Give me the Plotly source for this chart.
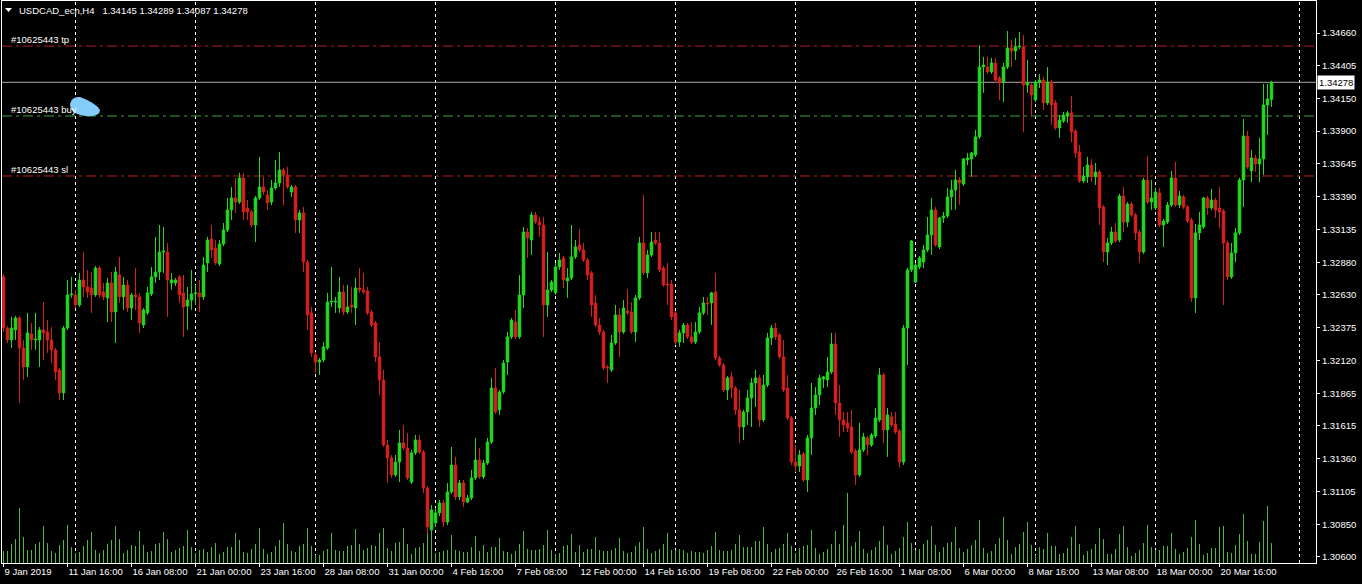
import plotly.graph_objects as go

# ---------------- data (USDCAD_ecn, H4, from 9 Jan 2019 00:00) ----------------
open_ = [1.32770,1.32374,1.32281,1.32359,1.32452,1.32219,1.32072,1.32328,1.32281,1.32281,
1.32359,1.32343,1.32281,1.32204,1.32049,1.31871,1.32374,1.32630,1.32630,1.32552,
1.32746,1.32692,1.32684,1.32630,1.32839,1.32653,1.32607,1.32723,1.32498,1.32785,
1.32615,1.32707,1.32529,1.32630,1.32615,1.32397,1.32491,1.32638,1.32770,1.32808,
1.32963,1.32963,1.32723,1.32723,1.32770,1.32646,1.32544,1.32591,1.32638,1.32646,
1.32615,1.32878,1.33064,1.32994,1.32870,1.33025,1.33134,1.33289,1.33382,1.33350,
1.33537,1.33304,1.33273,1.33172,1.33382,1.33467,1.33405,1.33350,1.33459,1.33498,
1.33599,1.33560,1.33428,1.33467,1.33211,1.33266,1.32885,1.32491,1.32165,1.32110,
1.32126,1.32219,1.32575,1.32575,1.32529,1.32653,1.32498,1.32552,1.32529,1.32684,
1.32669,1.32661,1.32498,1.32413,1.32150,1.31971,1.31467,1.31367,1.31235,1.31335,
1.31483,1.31444,1.31180,1.31406,1.31506,1.31413,1.31134,1.30809,1.30863,1.30941,
1.31018,1.30870,1.31103,1.31312,1.31065,1.31173,1.31025,1.31057,1.31212,1.31351,
1.31220,1.31328,1.31490,1.31909,1.31739,1.31878,1.32110,1.32305,1.32420,1.32305,
1.32630,1.33118,1.33056,1.33250,1.33195,1.33172,1.32552,1.32669,1.32646,1.32847,
1.32917,1.32738,1.32762,1.32925,1.33017,1.32979,1.32901,1.32801,1.32568,1.32397,
1.32343,1.32072,1.32049,1.32258,1.32475,1.32343,1.32506,1.32498,1.32343,1.32607,
1.33033,1.32801,1.32940,1.33056,1.33033,1.32839,1.32715,1.32715,1.32491,1.32265,
1.32336,1.32397,1.32305,1.32265,1.32343,1.32491,1.32568,1.32568,1.32653,1.32142,
1.32087,1.31894,1.31995,1.31909,1.31739,1.31607,1.31723,1.31832,1.31948,1.31987,
1.31661,1.31932,1.32297,1.32374,1.32320,1.32150,1.31909,1.31677,1.31335,1.31304,
1.31398,1.31196,1.31522,1.31754,1.31855,1.31979,1.31971,1.32033,1.32250,1.31793,
1.31661,1.31638,1.31607,1.31421,1.31235,1.31429,1.31522,1.31467,1.31537,1.31661,
1.32010,1.31584,1.31685,1.31630,1.31576,1.31335,1.32374,1.32824,1.32730,1.32847,
1.32885,1.32979,1.33095,1.33289,1.33002,1.33227,1.33242,1.33390,1.33444,1.33521,
1.33490,1.33676,1.33684,1.33715,1.33855,1.34397,1.34397,1.34358,1.34428,1.34312,
1.34280,1.34397,1.34544,1.34521,1.34552,1.34552,1.34257,1.34257,1.34141,1.34280,
1.34296,1.34118,1.34280,1.34118,1.33924,1.33978,1.34017,1.34041,1.33901,1.33738,
1.33513,1.33545,1.33637,1.33545,1.33583,1.33312,1.32963,1.33033,1.33118,1.33056,
1.33397,1.33195,1.33335,1.33250,1.33118,1.32963,1.33521,1.33350,1.33304,1.33421,
1.33172,1.33195,1.33327,1.33537,1.33327,1.33390,1.33312,1.33211,1.32607,1.33111,
1.33157,1.33382,1.33304,1.33366,1.33304,1.33281,1.33033,1.32770,1.32956,1.33111,
1.33521,1.33862,1.33591,1.33692,1.33645,1.33684,1.34102,1.34145]

high_ = [1.32793,1.32389,1.32460,1.32467,1.32467,1.32281,1.32491,1.32413,1.32491,1.32382,
1.32575,1.32436,1.32382,1.32219,1.32064,1.32389,1.32746,1.32770,1.32669,1.32801,
1.32963,1.32824,1.32808,1.32854,1.32854,1.32723,1.32762,1.32808,1.32847,1.32925,
1.32770,1.32746,1.32646,1.32839,1.32646,1.32529,1.32692,1.32847,1.33080,1.33172,
1.33157,1.33033,1.32801,1.32762,1.32785,1.32785,1.32692,1.32824,1.32707,1.32746,
1.32925,1.33080,1.33172,1.33056,1.33056,1.33188,1.33382,1.33467,1.33537,1.33576,
1.33576,1.33366,1.33289,1.33397,1.33700,1.33545,1.33444,1.33521,1.33676,1.33738,
1.33614,1.33622,1.33482,1.33482,1.33289,1.33312,1.32901,1.32537,1.32188,1.32142,
1.32265,1.32646,1.32847,1.32615,1.32770,1.32707,1.32707,1.32692,1.32762,1.32839,
1.32801,1.32692,1.32514,1.32428,1.32265,1.32049,1.31506,1.31390,1.31390,1.31584,
1.31622,1.31561,1.31429,1.31545,1.31545,1.31429,1.31149,1.31002,1.30979,1.31041,
1.31041,1.31173,1.31452,1.31375,1.31196,1.31196,1.31080,1.31274,1.31522,1.31444,
1.31351,1.31522,1.31987,1.32064,1.31894,1.32126,1.32343,1.32452,1.32514,1.32785,
1.33157,1.33149,1.33273,1.33273,1.33235,1.33235,1.32963,1.32746,1.32878,1.32956,
1.32932,1.32839,1.33172,1.33056,1.33141,1.33033,1.32917,1.32816,1.32630,1.32452,
1.32359,1.32087,1.32320,1.32552,1.32529,1.32591,1.32676,1.32575,1.32630,1.33080,
1.33405,1.32979,1.33118,1.33118,1.33118,1.32854,1.32878,1.32746,1.32506,1.32359,
1.32413,1.32413,1.32420,1.32420,1.32537,1.32615,1.32615,1.32653,1.32801,1.32157,
1.32103,1.32002,1.32033,1.31924,1.31894,1.31739,1.31894,1.31987,1.32049,1.32010,
1.32010,1.32336,1.32397,1.32413,1.32336,1.32281,1.32010,1.31692,1.31467,1.31429,
1.31413,1.31545,1.31948,1.31917,1.32010,1.32002,1.32150,1.32336,1.32336,1.31932,
1.31723,1.31723,1.31739,1.31436,1.31638,1.31561,1.31537,1.31561,1.31754,1.32064,
1.32026,1.31754,1.31723,1.31723,1.31591,1.32397,1.32839,1.33056,1.32878,1.32932,
1.33017,1.33235,1.33382,1.33312,1.33235,1.33273,1.33459,1.33521,1.33599,1.33545,
1.33692,1.33731,1.33738,1.33909,1.34567,1.34475,1.34475,1.34467,1.34467,1.34327,
1.34428,1.34676,1.34606,1.34622,1.34668,1.34645,1.34451,1.34273,1.34296,1.34343,
1.34320,1.34397,1.34296,1.34141,1.34025,1.34048,1.34056,1.34172,1.33916,1.33792,
1.33622,1.33700,1.33684,1.33653,1.33599,1.33327,1.33072,1.33157,1.33188,1.33413,
1.33467,1.33350,1.33350,1.33266,1.33134,1.33537,1.33707,1.33521,1.33459,1.33459,
1.33219,1.33350,1.33591,1.33660,1.33436,1.33405,1.33327,1.33227,1.33180,1.33273,
1.33390,1.33397,1.33451,1.33382,1.33467,1.33296,1.33048,1.33033,1.33149,1.33537,
1.33994,1.33901,1.33754,1.33715,1.33847,1.34265,1.34265,1.34289]

low_ = [1.32343,1.32258,1.32219,1.32281,1.31793,1.31971,1.31995,1.32204,1.32204,1.32072,
1.32126,1.32181,1.32103,1.31971,1.31816,1.31816,1.32359,1.32607,1.32529,1.32537,
1.32615,1.32607,1.32491,1.32615,1.32607,1.32591,1.32420,1.32420,1.32258,1.32568,
1.32514,1.32498,1.32436,1.32514,1.32336,1.32374,1.32475,1.32622,1.32723,1.32746,
1.32801,1.32460,1.32669,1.32699,1.32568,1.32305,1.32359,1.32514,1.32552,1.32498,
1.32591,1.32808,1.32917,1.32862,1.32854,1.33009,1.33118,1.33211,1.33266,1.33335,
1.33211,1.33211,1.33157,1.33040,1.33366,1.33405,1.33289,1.33327,1.33444,1.33467,
1.33327,1.33451,1.33390,1.33111,1.33111,1.32808,1.32359,1.32150,1.32026,1.32010,
1.32110,1.32204,1.32537,1.32491,1.32491,1.32475,1.32483,1.32491,1.32397,1.32646,
1.32638,1.32475,1.32382,1.32110,1.31855,1.31452,1.31173,1.31212,1.31220,1.31180,
1.31429,1.31196,1.31165,1.31390,1.31398,1.31096,1.30786,1.30755,1.30832,1.30917,
1.30832,1.30847,1.31088,1.31041,1.31041,1.30987,1.31018,1.31041,1.31196,1.31204,
1.31204,1.31312,1.31475,1.31708,1.31700,1.31863,1.32010,1.32289,1.32289,1.32289,
1.32529,1.32917,1.32940,1.33180,1.33080,1.32305,1.32460,1.32653,1.32630,1.32824,
1.32684,1.32607,1.32746,1.32909,1.32963,1.32885,1.32746,1.32460,1.32382,1.32320,
1.32049,1.31948,1.32033,1.32242,1.32150,1.32328,1.32475,1.32328,1.32265,1.32591,
1.32785,1.32762,1.32925,1.33017,1.32808,1.32692,1.32552,1.32436,1.32242,1.32227,
1.32258,1.32289,1.32250,1.32250,1.32328,1.32475,1.32475,1.32397,1.32126,1.32072,
1.31878,1.31816,1.31832,1.31700,1.31483,1.31506,1.31622,1.31607,1.31762,1.31607,
1.31645,1.31917,1.32242,1.32281,1.32134,1.31878,1.31661,1.31312,1.31258,1.31258,
1.31180,1.31103,1.31390,1.31700,1.31777,1.31909,1.31917,1.32018,1.31700,1.31530,
1.31568,1.31568,1.31398,1.31157,1.31220,1.31413,1.31390,1.31452,1.31522,1.31645,
1.31483,1.31375,1.31607,1.31553,1.31289,1.31312,1.32087,1.32808,1.32723,1.32831,
1.32839,1.32963,1.32940,1.33002,1.32986,1.33188,1.33227,1.33289,1.33289,1.33327,
1.33474,1.33637,1.33545,1.33700,1.33839,1.34196,1.34343,1.34343,1.34273,1.34141,
1.34125,1.34381,1.34397,1.34451,1.34536,1.33893,1.34196,1.34010,1.34125,1.34234,
1.34064,1.34102,1.33947,1.33909,1.33847,1.33963,1.33963,1.33815,1.33692,1.33498,
1.33498,1.33498,1.33505,1.33482,1.33172,1.32885,1.32862,1.33017,1.33033,1.33040,
1.33118,1.33157,1.33235,1.33056,1.32878,1.32948,1.33335,1.33289,1.33289,1.33157,
1.33002,1.33180,1.33312,1.33312,1.33304,1.33296,1.33188,1.32575,1.32491,1.33056,
1.33141,1.33250,1.33289,1.33227,1.33149,1.32552,1.32746,1.32754,1.32885,1.33095,
1.33312,1.33606,1.33505,1.33583,1.33505,1.33560,1.33870,1.34087]

close_ = [1.32374,1.32281,1.32374,1.32452,1.32219,1.32072,1.32336,1.32281,1.32289,1.32359,
1.32336,1.32281,1.32204,1.32033,1.31871,1.32374,1.32630,1.32638,1.32552,1.32746,
1.32692,1.32653,1.32630,1.32839,1.32630,1.32615,1.32723,1.32498,1.32808,1.32615,
1.32707,1.32529,1.32630,1.32615,1.32413,1.32514,1.32646,1.32770,1.32808,1.32963,
1.32971,1.32746,1.32746,1.32746,1.32630,1.32537,1.32591,1.32638,1.32646,1.32615,
1.32862,1.33056,1.32979,1.32878,1.33025,1.33134,1.33289,1.33382,1.33350,1.33537,
1.33273,1.33273,1.33172,1.33382,1.33467,1.33428,1.33343,1.33459,1.33498,1.33599,
1.33560,1.33467,1.33467,1.33211,1.33266,1.32885,1.32475,1.32181,1.32110,1.32126,
1.32227,1.32575,1.32583,1.32583,1.32653,1.32498,1.32537,1.32537,1.32684,1.32669,
1.32653,1.32491,1.32397,1.32150,1.31971,1.31467,1.31367,1.31235,1.31335,1.31483,
1.31444,1.31212,1.31406,1.31506,1.31413,1.31134,1.30832,1.30964,1.30941,1.31018,
1.30870,1.31103,1.31312,1.31065,1.31173,1.31025,1.31057,1.31212,1.31351,1.31220,
1.31328,1.31490,1.31909,1.31723,1.31878,1.32103,1.32305,1.32436,1.32305,1.32630,
1.33118,1.33072,1.33250,1.33195,1.33172,1.32552,1.32669,1.32730,1.32847,1.32901,
1.32746,1.32762,1.32925,1.33002,1.32979,1.32901,1.32785,1.32552,1.32397,1.32343,
1.32064,1.32064,1.32258,1.32475,1.32343,1.32529,1.32491,1.32343,1.32607,1.33033,
1.32801,1.32940,1.33040,1.33033,1.32824,1.32707,1.32707,1.32460,1.32265,1.32336,
1.32397,1.32305,1.32265,1.32343,1.32491,1.32568,1.32560,1.32646,1.32142,1.32087,
1.31894,1.31987,1.31909,1.31739,1.31607,1.31723,1.31832,1.31948,1.31987,1.31661,
1.31932,1.32297,1.32374,1.32305,1.32150,1.31894,1.31677,1.31335,1.31304,1.31390,
1.31196,1.31522,1.31754,1.31855,1.31987,1.31995,1.32033,1.32250,1.31793,1.31661,
1.31622,1.31599,1.31413,1.31235,1.31429,1.31530,1.31467,1.31545,1.31677,1.32010,
1.31584,1.31700,1.31622,1.31568,1.31335,1.32374,1.32824,1.33048,1.32862,1.32917,
1.32979,1.33095,1.33289,1.33017,1.33227,1.33242,1.33390,1.33444,1.33521,1.33498,
1.33684,1.33692,1.33731,1.33855,1.34397,1.34412,1.34358,1.34428,1.34296,1.34273,
1.34397,1.34544,1.34521,1.34552,1.34559,1.34257,1.34273,1.34180,1.34280,1.34296,
1.34118,1.34280,1.34102,1.33924,1.33986,1.34025,1.34041,1.33893,1.33731,1.33513,
1.33552,1.33637,1.33545,1.33583,1.33304,1.32963,1.33033,1.33118,1.33048,1.33397,
1.33195,1.33335,1.33250,1.33111,1.32963,1.33521,1.33350,1.33382,1.33428,1.33172,
1.33203,1.33327,1.33537,1.33327,1.33397,1.33312,1.33203,1.32607,1.33111,1.33172,
1.33382,1.33304,1.33366,1.33289,1.33273,1.33033,1.32770,1.32956,1.33111,1.33521,
1.33862,1.33622,1.33692,1.33645,1.33684,1.34102,1.34149,1.34278]

# tick volume (hundreds of ticks)
volume = [12,12,19,24,55,26,13,13,19,21, 37,20,12,10,18,23,38,16,10,11,
17,23,31,13,10,13,19,23,37,24, 10,13,18,17,32,18,11,12,19,20,
31,24,11,13,15,17,33,16,10,13, 14,11,16,20,9,11,16,16,30,23,
11,10,14,19,35,14,9,11,17,23, 40,19,12,11,17,19,35,17,8,8,
12,14,30,13,12,12,17,18,34,19, 13,15,18,17,30,35,15,12,20,21,
35,19,9,15,16,20,30,40,10,11, 12,13,28,13,12,11,11,16,27,12,
18,11,16,16,25,12,11,9,12,19, 32,14,13,13,14,18,33,13,9,10,
17,18,29,11,18,11,14,14,26,13, 12,12,13,15,25,12,10,11,17,21,
36,14,10,12,14,19,30,13,13,14, 13,10,12,11,11,10,13,17,31,13,
12,12,13,19,28,16,16,16,22,22, 36,19,11,14,15,19,30,17,10,15,
17,18,33,15,9,11,14,19,32,19, 38,70,17,21,32,14,10,13,16,22,
37,18,9,12,15,26,41,20,13,14, 19,23,37,18,11,16,20,21,36,15,
11,14,18,23,43,15,10,12,19,25, 46,23,9,16,19,31,41,18,8,16,
14,30,17,17,9,10,15,26,37,19, 8,12,14,19,35,24,9,9,14,29,
37,16,7,10,13,20,38,16,13,13, 17,17,30,14,9,11,15,26,43,19,
8,10,15,15,36,37,11,10,18,29, 49,22,9,9,21,42,57,20]

# time axis labels (every 16 H4 bars) and week starts (Monday 00:00 bar index)
time_labels = ["9 Jan 2019", "11 Jan 16:00", "16 Jan 08:00", "21 Jan 00:00", "23 Jan 16:00",
               "28 Jan 08:00", "31 Jan 00:00", "4 Feb 16:00", "7 Feb 08:00", "12 Feb 00:00",
               "14 Feb 16:00", "19 Feb 08:00", "22 Feb 00:00", "26 Feb 16:00", "1 Mar 08:00",
               "6 Mar 00:00", "8 Mar 16:00", "13 Mar 08:00", "18 Mar 00:00", "20 Mar 16:00"]
label_bars = [0, 16, 32, 48, 64, 80, 96, 112, 128, 144, 160, 176, 192, 208, 224,
              240, 256, 272, 288, 304]
week_start_bars = [18, 48, 78, 108, 138, 168, 198, 228, 258, 288, 324]

price_ticks = [1.34660, 1.34405, 1.34150, 1.33900, 1.33645, 1.33390, 1.33135, 1.32880,
               1.32630, 1.32375, 1.32120, 1.31865, 1.31615, 1.31360, 1.31105, 1.30850, 1.30600]

order_tp = 1.34559
order_buy = 1.34017
order_sl = 1.33552
last_price = 1.34278
header = "USDCAD_ecn,H4\u00a0\u00a0" + "\u00a01.34145\u00a01.34289\u00a01.34087\u00a01.34278"

# ---------------- styling ----------------
W, H = 1362, 584
ML, MR, MT, MB = 2, 46, 1, 21
PW, PH = W - ML - MR, H - MT - MB
BULL = "#22d822"
BEAR = "#d42222"
VOLC = "#4fb83e"
FONT = "Liberation Sans"
FS = 9.5
X0 = -0.375
X1 = X0 + PW / 4.0

def pxx(px):
    return (px - ML) / PW

def pxy(py):
    return 1 - (py - MT) / PH

n = len(close_)
up = [i for i in range(n) if close_[i] >= open_[i]]
dn = [i for i in range(n) if close_[i] < open_[i]]

fig = go.Figure()

for grp, col in ((up, BULL), (dn, BEAR)):
    wx, wy = [], []
    for i in grp:
        wx += [i, i, None]
        wy += [low_[i], high_[i], None]
    fig.add_trace(go.Scatter(x=wx, y=wy, mode="lines", line=dict(color=col, width=1),
                             hoverinfo="skip", showlegend=False))
    fig.add_trace(go.Bar(x=grp,
                         base=[min(open_[i], close_[i]) for i in grp],
                         y=[abs(close_[i] - open_[i]) for i in grp],
                         width=0.72, marker=dict(color=col, line=dict(color=col, width=0.6)),
                         hoverinfo="skip", showlegend=False))

# volume histogram (1px lines)
vx, vy = [], []
for i in range(n):
    vx += [i, i, None]
    vy += [0, volume[i], None]
fig.add_trace(go.Scatter(x=vx, y=vy, yaxis="y2", mode="lines",
                         line=dict(color=VOLC, width=1),
                         hoverinfo="skip", showlegend=False))

shapes = []
for b in week_start_bars:
    shapes.append(dict(type="line", xref="x", yref="paper", x0=b, x1=b, y0=0, y1=1,
                       line=dict(color="white", width=1, dash="3px,3px"), layer="below"))
for val, col in ((order_tp, "#b32020"), (order_buy, "#3f9f3f"), (order_sl, "#b32020")):
    shapes.append(dict(type="line", xref="paper", yref="y", x0=0, x1=1, y0=val, y1=val,
                       line=dict(color=col, width=1, dash="10px,4px,3px,4px"), layer="below"))
shapes.append(dict(type="line", xref="paper", yref="y", x0=0, x1=1, y0=last_price, y1=last_price,
                   line=dict(color="#a8a8a8", width=1), layer="below"))
# light-blue smudge over the buy label
shapes.append(dict(type="path", xref="paper", yref="paper", layer="above",
                   fillcolor="#84cdfa", line=dict(width=0),
                   path="M {} {} Q {} {} {} {} Q {} {} {} {} Q {} {} {} {} Q {} {} {} {} Z".format(
                       pxx(70), pxy(104),
                       pxx(72), pxy(96), pxx(80), pxy(97),
                       pxx(96), pxy(103), pxx(100), pxy(110),
                       pxx(100), pxy(117), pxx(86), pxy(116),
                       pxx(70), pxy(114), pxx(70), pxy(104))))
# header triangle
shapes.append(dict(type="path", xref="paper", yref="paper", layer="above",
                   fillcolor="white", line=dict(width=0),
                   path="M {} {} L {} {} L {} {} Z".format(pxx(5), pxy(8), pxx(12), pxy(8), pxx(8.5), pxy(12))))

ann = [dict(xref="paper", yref="paper", x=pxx(17), y=pxy(10), xanchor="left", yanchor="middle",
            text=header, showarrow=False, font=dict(family=FONT, size=FS, color="white"))]
for val, label in ((order_tp, "#10625443 tp"), (order_buy, "#10625443 buy"), (order_sl, "#10625443 sl")):
    ann.append(dict(xref="paper", yref="y", x=pxx(9), y=val, xanchor="left", yanchor="bottom",
                    yshift=-1, text=label, showarrow=False,
                    font=dict(family=FONT, size=FS, color="white")))
ann.append(dict(xref="paper", yref="y", x=1, y=last_price, xanchor="left", yanchor="middle",
                xshift=1, text="{:.5f}".format(last_price), showarrow=False, bgcolor="white",
                borderpad=1, font=dict(family=FONT, size=FS, color="black")))

fig.update_layout(
    width=W, height=H, margin=dict(l=ML, r=MR, t=MT, b=MB, pad=0, autoexpand=False),
    paper_bgcolor="black", plot_bgcolor="black", barmode="overlay",
    font=dict(family=FONT, size=FS, color="white"), showlegend=False,
    shapes=shapes, annotations=ann,
    xaxis=dict(range=[X0, X1], tickmode="array", tickvals=label_bars, ticktext=time_labels,
               ticks="outside", ticklen=3, tickcolor="white", ticklabelposition="outside right",
               tickangle=0, automargin=False,
               showgrid=False, zeroline=False, showline=True, mirror=True, linecolor="white",
               linewidth=1, tickfont=dict(family=FONT, size=FS, color="white")),
    yaxis=dict(range=[1.305526, 1.349081], side="right", tickmode="array", tickvals=price_ticks,
               ticktext=["{:.5f}".format(v) for v in price_ticks], ticks="outside", ticklen=3,
               tickcolor="white", showgrid=False, zeroline=False, showline=True, mirror=True,
               automargin=False,
               linecolor="white", linewidth=1, tickfont=dict(family=FONT, size=FS, color="white")),
    yaxis2=dict(overlaying="y", range=[0, PH], visible=False, fixedrange=True),
)

fig.write_html("out.html", config={"displayModeBar": False},
               post_script="document.body.style.margin='0px';document.body.style.overflow='hidden';")
